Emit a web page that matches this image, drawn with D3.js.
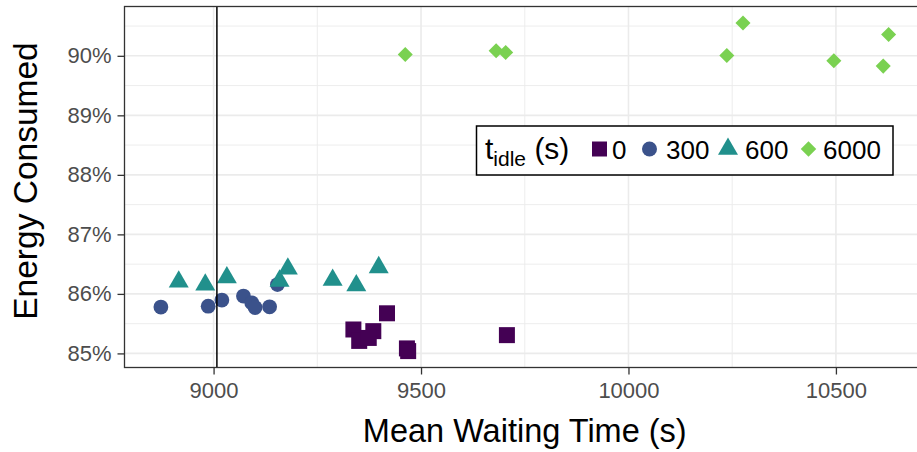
<!DOCTYPE html>
<html><head><meta charset="utf-8">
<script src="https://cdn.jsdelivr.net/npm/d3@7"></script>
<style>body{margin:0;background:#fff} svg{display:block} text{font-family:"Liberation Sans",Arial,Helvetica,sans-serif}</style>
</head><body><svg id="chart" width="917" height="452"></svg>
<script>
// ---- data ----
const idleLevels = ["0", "300", "600", "6000"];
const waitIdle0 = [9337, 9385, 9351, 9374, 9418, 9466, 9469, 9707];
const energyIdle0 = [85.402, 85.374, 85.210, 85.260, 85.674, 85.084, 85.039, 85.307];
const waitIdle300 = [8873, 8987, 9020, 9072, 9092, 9100, 9135, 9154];
const energyIdle300 = [85.779, 85.793, 85.897, 85.964, 85.850, 85.771, 85.783, 86.157];
const waitIdle600 = [8916, 8980, 9032, 9159, 9179, 9287, 9344, 9398];
const energyIdle600 = [86.205, 86.155, 86.274, 86.219, 86.421, 86.234, 86.140, 86.445];
const waitIdle6000 = [9462, 9681, 9704, 10237, 10276, 10495, 10627, 10614];
const energyIdle6000 = [90.023, 90.084, 90.057, 90.007, 90.553, 89.916, 90.359, 89.827];
const xTicks = [9000, 9500, 10000, 10500];
const xMinor = [9250, 9750, 10250];
const yTicks = [85, 86, 87, 88, 89, 90];
const yMinor = [85.5, 86.5, 87.5, 88.5, 89.5, 90.5];
const refLine = 9008;

const waits = [waitIdle0, waitIdle300, waitIdle600, waitIdle6000];
const energies = [energyIdle0, energyIdle300, energyIdle600, energyIdle6000];
const colors = ["#440154", "#3B528B", "#21908C", "#7AD151"];
const shapes = [d3.symbolSquare, d3.symbolCircle, d3.symbolTriangle, d3.symbolSquare];
const sizes = [256, 172, 173, 113];
const legendSizes = [225, 177, 173, 120];
const rotations = [0, 0, 0, 45];

const rows = [];
idleLevels.forEach((lvl, i) => waits[i].forEach((w, j) => rows.push({lvl: i, x: w, y: energies[i][j]})));

// ---- layout ----
const L = 124.5, R = 925, T = 6.5, B = 367.5;
const svg = d3.select("#chart");
const xAll = rows.map(d => d.x), yAll = rows.map(d => d.y);
const xr = d3.extent(xAll), yr = d3.extent(yAll);
const xe = (xr[1] - xr[0]) * 0.05, ye = (yr[1] - yr[0]) * 0.05;
const x = d3.scaleLinear().domain([xr[0] - xe, xr[1] + xe]).range([L, R]);
const y = d3.scaleLinear().domain([yr[0] - ye, yr[1] + ye]).range([B, T]);

const g = svg.append("g");
g.append("rect").attr("x", L).attr("y", T).attr("width", R - L).attr("height", B - T).attr("fill", "#fff");
// minor grid
g.selectAll(".xm").data(xMinor).join("line").attr("x1", d => x(d)).attr("x2", d => x(d)).attr("y1", T).attr("y2", B)
  .attr("stroke", "#EBEBEB").attr("stroke-width", 0.9);
g.selectAll(".ym").data(yMinor).join("line").attr("y1", d => y(d)).attr("y2", d => y(d)).attr("x1", L).attr("x2", R)
  .attr("stroke", "#EBEBEB").attr("stroke-width", 0.9);
// major grid
g.selectAll(".xg").data(xTicks).join("line").attr("x1", d => x(d)).attr("x2", d => x(d)).attr("y1", T).attr("y2", B)
  .attr("stroke", "#EBEBEB").attr("stroke-width", 1.6);
g.selectAll(".yg").data(yTicks).join("line").attr("y1", d => y(d)).attr("y2", d => y(d)).attr("x1", L).attr("x2", R)
  .attr("stroke", "#EBEBEB").attr("stroke-width", 1.6);

// points
g.selectAll(".pt").data(rows).join("path")
  .attr("d", d => d3.symbol(shapes[d.lvl], sizes[d.lvl])())
  .attr("transform", d => `translate(${x(d.x)},${y(d.y)}) rotate(${rotations[d.lvl]})`)
  .attr("fill", d => colors[d.lvl]);

// reference line
g.append("line").attr("x1", x(refLine)).attr("x2", x(refLine)).attr("y1", T).attr("y2", B)
  .attr("stroke", "#000").attr("stroke-width", 1.5);

// border
g.append("rect").attr("x", L).attr("y", T).attr("width", R - L).attr("height", B - T)
  .attr("fill", "none").attr("stroke", "#333").attr("stroke-width", 1.3);

// axes
const xAxis = svg.append("g").attr("transform", `translate(0,${B})`)
  .call(d3.axisBottom(x).tickValues(xTicks).tickFormat(d3.format("d")).tickSize(7).tickPadding(6));
const yAxis = svg.append("g").attr("transform", `translate(${L},0)`)
  .call(d3.axisLeft(y).tickValues(yTicks).tickFormat(d => d + "%").tickSize(7).tickPadding(6));
[xAxis, yAxis].forEach(a => {
  a.select(".domain").remove();
  a.selectAll(".tick line").attr("stroke", "#333").attr("stroke-width", 1.3);
  a.selectAll(".tick text").attr("fill", "#4D4D4D").style("font-size", "22px");
});
xAxis.selectAll(".tick text").attr("dy", "0.8em");

// axis titles
svg.append("text").attr("x", (L + R) / 2).attr("y", 442).attr("text-anchor", "middle")
  .style("font-size", "32.5px").attr("fill", "#000").text("Mean Waiting Time (s)");
svg.append("text").attr("transform", `translate(37,${(T + B) / 2 - 6}) rotate(-90)`).attr("text-anchor", "middle")
  .style("font-size", "33.5px").attr("fill", "#000").text("Energy Consumed");

// legend
const lg = svg.append("g");
lg.append("rect").attr("x", 476.5).attr("y", 126).attr("width", 416.5).attr("height", 49)
  .attr("fill", "#fff").attr("stroke", "#000").attr("stroke-width", 1.5);
const lt = lg.append("text").attr("x", 485).attr("y", 159).style("font-size", "30px").attr("fill", "#000");
lt.append("tspan").text("t");
lt.append("tspan").attr("dy", 7).style("font-size", "21px").text("idle");
lt.append("tspan").attr("dy", -7).text(" (s)");
const keyX = [599.5, 649.5, 728, 808.5];
const labX = [612, 666, 745, 823];
idleLevels.forEach((lvl, i) => {
  lg.append("path").attr("d", d3.symbol(shapes[i], legendSizes[i])())
    .attr("transform", `translate(${keyX[i]},149) rotate(${rotations[i]})`).attr("fill", colors[i]);
  lg.append("text").attr("x", labX[i]).attr("y", 159).style("font-size", "26px").attr("fill", "#000").text(lvl);
});
</script></body></html>
